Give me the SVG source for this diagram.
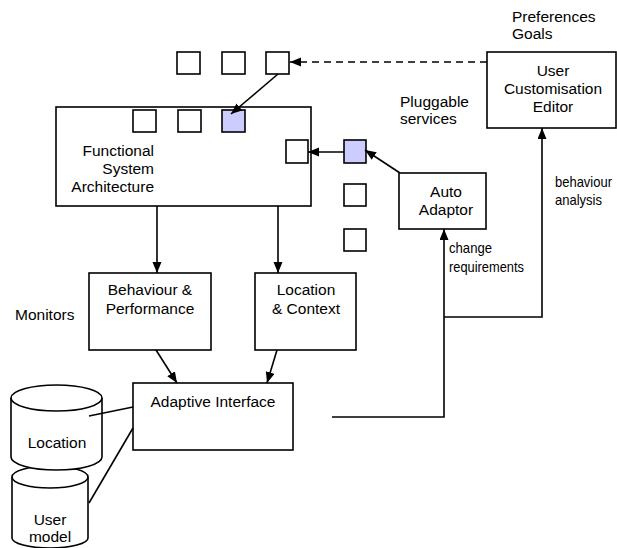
<svg xmlns="http://www.w3.org/2000/svg" width="617" height="548" viewBox="0 0 617 548">
<style>
text{font-family:"Liberation Sans",Arial,sans-serif;font-size:15.5px;fill:#000}
.box{fill:#fff;stroke:#000;stroke-width:1.6}
.sq{fill:#fff;stroke:#000;stroke-width:1.6}
.sel{fill:#ccccff;stroke:#000;stroke-width:1.6}
.ln{fill:none;stroke:#000;stroke-width:1.6}
.c{text-anchor:middle}
.r{text-anchor:end}
.n{font-size:15px}
</style>
<defs>
<marker id="ah" markerUnits="userSpaceOnUse" markerWidth="12" markerHeight="10" refX="11" refY="4.5" orient="auto">
<path d="M0,0 L11,4.5 L0,9 z" fill="#000"/>
</marker>
</defs>

<g id="functional">
<rect class="box" x="56" y="107" width="255" height="99"/>
<text class="r" x="154" y="156">Functional</text>
<text class="r" x="154" y="174">System</text>
<text class="r" x="154" y="192">Architecture</text>
<rect class="sq" x="133" y="110" width="23" height="22"/>
<rect class="sq" x="178" y="110" width="23" height="22"/>
<rect class="sel" x="222" y="110" width="23" height="22"/>
<rect class="sq" x="286" y="140" width="22" height="23"/>
</g>

<g id="top-squares">
<rect class="sq" x="177" y="52" width="23" height="22"/>
<rect class="sq" x="222" y="52" width="23" height="22"/>
<rect class="sq" x="266" y="52" width="23" height="22"/>
</g>

<g id="pluggable">
<text x="400" y="107">Pluggable</text>
<text x="400" y="124">services</text>
<rect class="sel" x="344" y="140" width="22" height="23"/>
<rect class="sq" x="344" y="184" width="22" height="22"/>
<rect class="sq" x="344" y="229" width="22" height="22"/>
</g>

<g id="preferences">
<text x="512" y="22">Preferences</text>
<text x="512" y="39">Goals</text>
</g>

<g id="uce">
<rect class="box" x="487" y="52" width="129" height="76"/>
<text class="c" x="553" y="76">User</text>
<text class="c" x="553" y="94">Customisation</text>
<text class="c" x="553" y="112">Editor</text>
</g>

<g id="auto-adaptor">
<rect class="box" x="399" y="173" width="87" height="56"/>
<text class="c" x="446" y="197">Auto</text>
<text class="c" x="446" y="215">Adaptor</text>
</g>

<g id="monitors">
<text x="15" y="320">Monitors</text>
</g>

<g id="behaviour">
<rect class="box" x="89" y="273" width="122" height="77"/>
<text class="c" x="150" y="295">Behaviour &amp;</text>
<text class="c" x="150" y="314">Performance</text>
</g>

<g id="location-context">
<rect class="box" x="255" y="273" width="101" height="77"/>
<text class="c" x="306" y="295">Location</text>
<text class="c" x="306" y="314">&amp; Context</text>
</g>

<g id="adaptive">
<rect class="box" x="133" y="383" width="160" height="67"/>
<text class="c" x="213" y="407">Adaptive Interface</text>
</g>

<g id="user-model">
<path class="box" d="M12,477 L12,538 A38,10 0 0 0 88,538 L88,477 A38,11 0 0 0 12,477 Z"/>
<path class="ln" d="M12,477 A38,11 0 0 0 88,477"/>
<text class="c" x="50" y="525">User</text>
<text class="c" x="50" y="542">model</text>
</g>

<g id="location-db">
<path class="box" d="M11,398 L11,457 A45.5,13 0 0 0 102,457 L102,398 A45.5,13 0 0 0 11,398 Z"/>
<path class="ln" d="M11,398 A45.5,13 0 0 0 102,398"/>
<text class="c" x="57" y="448">Location</text>
</g>

<g id="connectors">
<line class="ln" x1="487" y1="62" x2="290" y2="62" stroke-dasharray="7,5" marker-end="url(#ah)"/>
<line class="ln" x1="278" y1="74" x2="231" y2="114" marker-end="url(#ah)"/>
<line class="ln" x1="344" y1="152" x2="308" y2="152" marker-end="url(#ah)"/>
<line class="ln" x1="400" y1="173" x2="365" y2="150" marker-end="url(#ah)"/>
<line class="ln" x1="157" y1="206" x2="157" y2="273" marker-end="url(#ah)"/>
<line class="ln" x1="278" y1="206" x2="278" y2="273" marker-end="url(#ah)"/>
<line class="ln" x1="156" y1="350" x2="177" y2="383" marker-end="url(#ah)"/>
<line class="ln" x1="277" y1="350" x2="267" y2="383" marker-end="url(#ah)"/>
<polyline class="ln" points="332,417 444,417 444,229" marker-end="url(#ah)"/>
<polyline class="ln" points="444,317 542,317 542,128" marker-end="url(#ah)"/>
<line class="ln" x1="133" y1="407" x2="89" y2="416"/>
<line class="ln" x1="133" y1="428" x2="89" y2="503"/>
</g>

<g id="labels">
<text class="n" x="449" y="253" textLength="43" lengthAdjust="spacingAndGlyphs">change</text>
<text class="n" x="449" y="272" textLength="75" lengthAdjust="spacingAndGlyphs">requirements</text>
<text class="n" x="555" y="187" textLength="57" lengthAdjust="spacingAndGlyphs">behaviour</text>
<text class="n" x="555" y="205" textLength="47" lengthAdjust="spacingAndGlyphs">analysis</text>
</g>
</svg>
